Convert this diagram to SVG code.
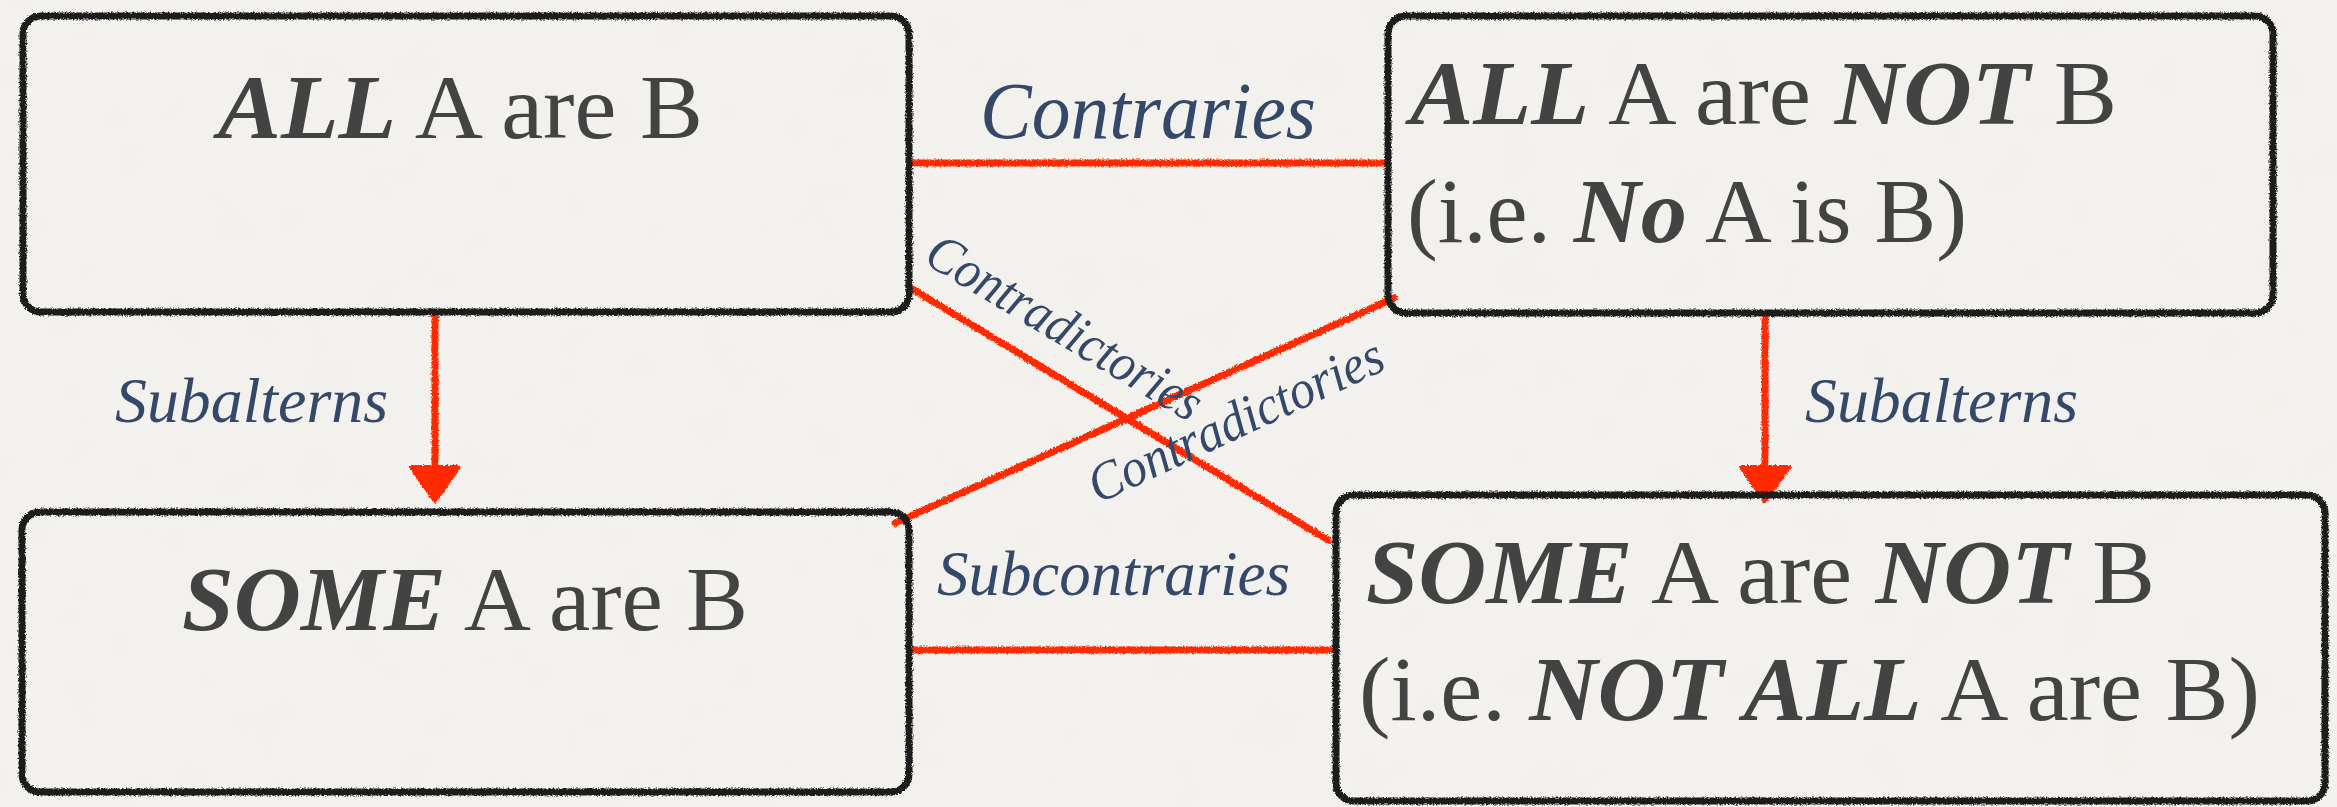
<svg xmlns="http://www.w3.org/2000/svg" width="2337" height="807" viewBox="0 0 2337 807">
<style>
.box{fill:none;stroke:#1c1c1c;stroke-width:7;filter:url(#rough)}
.red{fill:none;stroke:#ff2a00;stroke-width:7;stroke-linecap:round;filter:url(#rough)}
.head{fill:#ff2a00;stroke:#ff2a00;stroke-width:4;stroke-linejoin:round;filter:url(#rough)}
.main{font-family:"Liberation Serif","Times New Roman",serif;font-size:92px;fill:#434343}
.em{font-style:italic;font-weight:bold}
.lab{font-family:"Liberation Serif","Times New Roman",serif;font-style:italic;fill:#34496a}
</style>
<defs>
<filter id="rough" filterUnits="userSpaceOnUse" x="0" y="0" width="2337" height="807">
<feTurbulence type="fractalNoise" baseFrequency="0.6" numOctaves="2" seed="4" result="n"/>
<feDisplacementMap in="SourceGraphic" in2="n" scale="4" xChannelSelector="R" yChannelSelector="G"/>
</filter>
<filter id="paper" filterUnits="userSpaceOnUse" x="0" y="0" width="2337" height="807">
<feTurbulence type="fractalNoise" baseFrequency="0.02" numOctaves="3" seed="7"/>
<feColorMatrix type="matrix" values="0 0 0 0 0.5  0 0 0 0 0.48  0 0 0 0 0.45  0 0 0 0.06 0"/>
</filter>
</defs>
<rect x="0" y="0" width="2337" height="807" fill="#f5f3ef"/>
<rect x="0" y="0" width="2337" height="807" filter="url(#paper)"/>

<g id="connectors">
<line class="red" x1="909" y1="163" x2="1388" y2="163"/>
<line class="red" x1="909" y1="650" x2="1330" y2="650"/>
<line class="red" x1="909" y1="287" x2="1328" y2="540"/>
<line class="red" x1="1394" y1="298" x2="895" y2="523"/>
<line class="red" x1="435" y1="314" x2="435" y2="470"/>
<polygon class="head" points="411,467 459,467 435,501"/>
<line class="red" x1="1765" y1="314" x2="1765" y2="470"/>
<polygon class="head" points="1741,467 1789,467 1765,501"/>
<text class="lab" x="980" y="138" font-size="80" textLength="336" lengthAdjust="spacingAndGlyphs">Contraries</text>
<text class="lab" x="115" y="422" font-size="64" textLength="273" lengthAdjust="spacingAndGlyphs">Subalterns</text>
<text class="lab" x="1805" y="422" font-size="64" textLength="273" lengthAdjust="spacingAndGlyphs">Subalterns</text>
<text class="lab" x="937" y="595" font-size="64" textLength="353" lengthAdjust="spacingAndGlyphs">Subcontraries</text>
<text class="lab" transform="translate(922,262) rotate(31)" x="0" y="0" font-size="54" textLength="312" lengthAdjust="spacingAndGlyphs">Contradictories</text>
<text class="lab" transform="translate(1098,504) rotate(-25)" x="0" y="0" font-size="54" textLength="320" lengthAdjust="spacingAndGlyphs">Contradictories</text>
</g>

<g id="node-all">
<rect class="box" x="23" y="16" width="886" height="296" rx="18"/>
<text class="main" x="218" y="138" textLength="485" lengthAdjust="spacingAndGlyphs"><tspan class="em">ALL</tspan> A are B</text>
</g>

<g id="node-all-not">
<rect class="box" x="1388" y="16" width="885" height="297" rx="18"/>
<text class="main" x="1410" y="124" textLength="707" lengthAdjust="spacingAndGlyphs"><tspan class="em">ALL</tspan> A are <tspan class="em">NOT</tspan> B</text>
<text class="main" x="1407" y="242" textLength="560" lengthAdjust="spacingAndGlyphs">(i.e. <tspan class="em">No</tspan> A is B)</text>
</g>

<g id="node-some">
<rect class="box" x="22" y="512" width="887" height="280" rx="18"/>
<text class="main" x="182" y="630" textLength="566" lengthAdjust="spacingAndGlyphs"><tspan class="em">SOME</tspan> A are B</text>
</g>

<g id="node-some-not">
<rect class="box" x="1336" y="495" width="989" height="306" rx="18"/>
<text class="main" x="1366" y="603" textLength="789" lengthAdjust="spacingAndGlyphs"><tspan class="em">SOME</tspan> A are <tspan class="em">NOT</tspan> B</text>
<text class="main" x="1359" y="720" textLength="901" lengthAdjust="spacingAndGlyphs">(i.e. <tspan class="em">NOT ALL</tspan> A are B)</text>
</g>
</svg>
